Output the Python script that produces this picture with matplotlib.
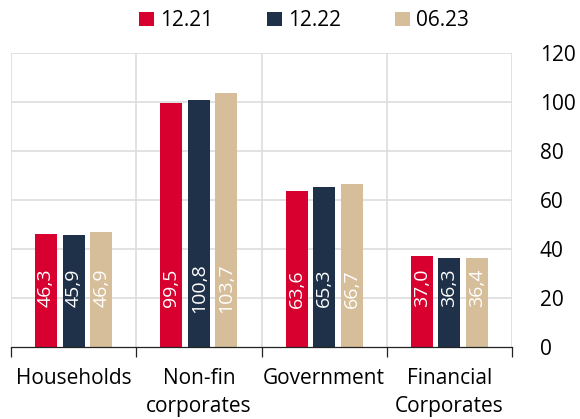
import matplotlib.pyplot as plt
import numpy as np

categories = ["Households", "Non-fin\ncorporates", "Government", "Financial\nCorporates"]
series_names = ["12.21", "12.22", "06.23"]
v_1221 = [46.3, 99.5, 63.6, 37.0]
v_1222 = [45.9, 100.8, 65.3, 36.3]
v_0623 = [46.9, 103.7, 66.7, 36.4]
yticks = [0, 20, 40, 60, 80, 100, 120]

colors = ["#D7002F", "#1E3148", "#D5BE99"]

plt.rcParams['font.family'] = ['Open Sans', 'DejaVu Sans']

fig = plt.figure(figsize=(5.8, 4.19), dpi=100)
ax = fig.add_axes([11 / 580, 1 - 347 / 419, 501 / 580, 294 / 419])

x = np.arange(len(categories))
width = 0.176
step = 0.22
for i, (vals, name, c) in enumerate(zip([v_1221, v_1222, v_0623], series_names, colors)):
    pos = x + (i - 1) * step
    ax.bar(pos, vals, width=width, color=c, label=name, zorder=3)
    for p, v in zip(pos, vals):
        ax.text(p, 24, f"{v:.1f}".replace(".", ","), rotation=90, ha="center", va="center",
                color="white", fontsize=14, zorder=4)

ax.set_xlim(-0.5, len(categories) - 0.5)
ax.set_ylim(0, 120)
ax.yaxis.tick_right()
ax.set_yticks(yticks)
ax.set_yticklabels([str(t) for t in yticks], fontsize=15)
ax.tick_params(axis="y", length=0, pad=20)

# category boundaries
ax.set_xticks(np.arange(-0.5, len(categories), 1.0))
ax.set_xticklabels([])
ax.set_xticks(x, minor=True)
ax.set_xticklabels(categories, minor=True, fontsize=15, linespacing=1.45)
ax.tick_params(axis="x", which="major", length=7, width=0.9, color="#222222")
ax.tick_params(axis="x", which="minor", length=0, pad=15)

for b in np.arange(-0.5, len(categories), 1.0):
    ax.axvline(b, color="#DDDDDD", lw=1.2, zorder=1)
for t in yticks[1:]:
    ax.axhline(t, color="#DDDDDD", lw=1.2, zorder=1)

for s in ["top", "left", "right"]:
    ax.spines[s].set_visible(False)
ax.spines["bottom"].set_color("#222222")
ax.spines["bottom"].set_linewidth(0.9)
ax.spines["bottom"].set_zorder(5)

fig.legend(loc="upper center", bbox_to_anchor=(0.524, 1.02), ncol=3, frameon=False,
           fontsize=15, handlelength=0.7, handleheight=0.7, handletextpad=0.3,
           columnspacing=2.6)

plt.savefig("out.png", dpi=100)
